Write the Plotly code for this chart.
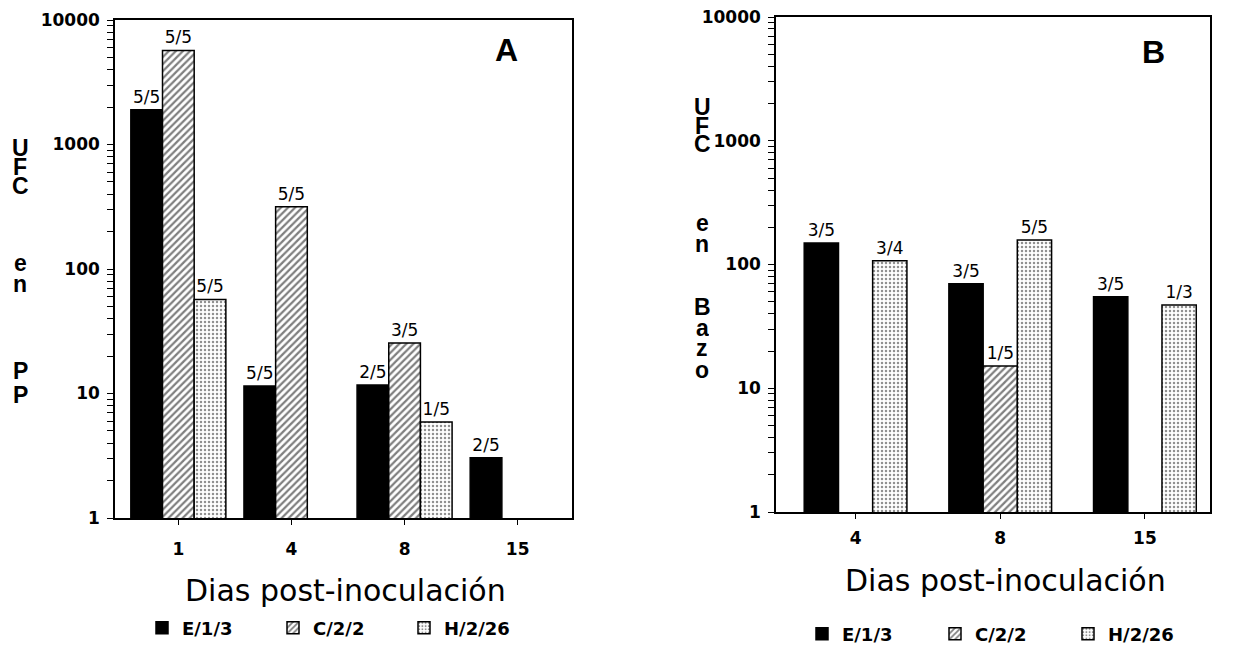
import plotly.graph_objects as go

# ---------------- data ----------------
days_A = ["1", "4", "8", "15"]
E_A = [1900, 11.5, 11.7, 3.05]
C_A = [5700, 316, 25.5, None]
H_A = [57, None, 5.9, None]
E_A_lab = ["5/5", "5/5", "2/5", "2/5"]
C_A_lab = ["5/5", "5/5", "3/5", ""]
H_A_lab = ["5/5", "", "1/5", ""]

days_B = ["4", "8", "15"]
E_B = [149, 70, 55]
C_B = [None, 15.1, None]
H_B = [107, 158, 47]
E_B_lab = ["3/5", "3/5", "3/5"]
C_B_lab = ["", "1/5", ""]
H_B_lab = ["3/4", "5/5", "1/3"]

series_names = ["E/1/3", "C/2/2", "H/2/26"]

y_tickvals = [m * 10 ** k for k in range(4) for m in range(1, 10)] + [10000]
y_ticktext = [str(v) if v in (1, 10, 100, 1000, 10000) else "" for v in y_tickvals]

W, H = 1234, 662
BAR_FONT = dict(family="DejaVu Sans", size=17, color="black")
LINE = dict(color="black", width=1.5)

def styles():
    return [
        dict(color="black", line=LINE),
        dict(color="white", line=LINE,
             pattern=dict(shape="/", fgcolor="black", bgcolor="white", size=5, solidity=0.45)),
        dict(color="white", line=LINE,
             pattern=dict(shape=".", fgcolor="#222", bgcolor="white", size=4, solidity=0.3)),
    ]

fig = go.Figure()

# Panel A
wA = 0.28
offA = [-0.42, -0.14, 0.14]
for i, (vals, labs) in enumerate(zip([E_A, C_A, H_A], [E_A_lab, C_A_lab, H_A_lab])):
    fig.add_trace(go.Bar(
        x=days_A, y=vals, text=labs, name=series_names[i],
        marker=styles()[i], width=wA, offset=offA[i],
        textposition="outside", textfont=BAR_FONT, constraintext="none",
        cliponaxis=False, xaxis="x", yaxis="y", legend="legend",
    ))

# Panel B
wB = 0.237
offB = [-0.355, -0.118, 0.118]
for i, (vals, labs) in enumerate(zip([E_B, C_B, H_B], [E_B_lab, C_B_lab, H_B_lab])):
    fig.add_trace(go.Bar(
        x=days_B, y=vals, text=labs, name=series_names[i],
        marker=styles()[i], width=wB, offset=offB[i],
        textposition="outside", textfont=BAR_FONT, constraintext="none",
        cliponaxis=False, xaxis="x2", yaxis="y2", legend="legend2",
    ))

tickfont = dict(family="DejaVu Sans", size=17, color="black", weight="bold")

def xax(domain, anchor, rng, standoff):
    return dict(domain=domain, anchor=anchor, type="category", range=rng,
                showline=True, mirror=True, linecolor="black", linewidth=1.5,
                ticks="outside", ticklen=5, tickwidth=1.2, tickcolor="black",
                tickfont=tickfont, ticklabelstandoff=standoff, showgrid=False, zeroline=False)

def yax(domain, anchor):
    return dict(domain=domain, anchor=anchor, type="log", range=[0, 4],
                tickmode="array", tickvals=y_tickvals, ticktext=y_ticktext,
                showline=True, mirror=True, linecolor="black", linewidth=1.5,
                ticks="outside", ticklen=6, tickwidth=1.2, tickcolor="black",
                tickfont=tickfont, ticklabelstandoff=4, showgrid=False, zeroline=False)

legend_font = dict(family="DejaVu Sans", size=18, color="black", weight="bold")
fig.update_layout(
    width=W, height=H, margin=dict(l=0, r=0, t=0, b=0, autoexpand=False),
    paper_bgcolor="white", plot_bgcolor="white",
    barmode="overlay",
    xaxis=xax([115 / W, 572 / W], "y", [-0.56, 3.48], 10),
    yaxis=yax([1 - 518 / H, 1 - 20 / H], "x"),
    xaxis2=xax([776 / W, 1210 / W], "y2", [-0.55, 2.45], 5),
    yaxis2=yax([1 - 512 / H, 1 - 17 / H], "x2"),
    legend=dict(orientation="h", x=142 / W, y=1 - 628 / H, xanchor="left", yanchor="middle",
                font=legend_font, entrywidth=86, entrywidthmode="pixels", bgcolor="rgba(0,0,0,0)"),
    legend2=dict(orientation="h", x=802 / W, y=1 - 634 / H, xanchor="left", yanchor="middle",
                 font=legend_font, entrywidth=88, entrywidthmode="pixels", bgcolor="rgba(0,0,0,0)"),
    showlegend=True,
)

ann = []
title_font = dict(family="DejaVu Sans", size=30, color="black")
ann.append(dict(text="Dias post-inoculación", x=345 / W, y=1 - 590 / H, xref="paper", yref="paper",
                showarrow=False, font=title_font, xanchor="center", yanchor="middle"))
ann.append(dict(text="Dias post-inoculación", x=1005 / W, y=1 - 580 / H, xref="paper", yref="paper",
                showarrow=False, font=title_font, xanchor="center", yanchor="middle"))
panel_font = dict(family="Liberation Sans", size=32, color="black", weight="bold")
ann.append(dict(text="A", x=506 / W, y=1 - 50 / H, xref="paper", yref="paper", showarrow=False,
                font=panel_font, xanchor="center", yanchor="middle"))
ann.append(dict(text="B", x=1153 / W, y=1 - 52 / H, xref="paper", yref="paper", showarrow=False,
                font=panel_font, xanchor="center", yanchor="middle"))

letter_font = dict(family="Liberation Sans", size=23, color="black", weight="bold")
for ch, yy in zip(["U", "F", "C", "e", "n", "P", "P"], [148, 167, 186, 263, 284, 371, 395]):
    ann.append(dict(text=ch, x=20 / W, y=1 - yy / H, xref="paper", yref="paper", showarrow=False,
                    font=letter_font, xanchor="center", yanchor="middle", height=18))
for ch, yy in zip(["U", "F", "C", "e", "n", "B", "a", "z", "o"], [106, 125, 144, 222, 243, 306, 327, 348, 369]):
    ann.append(dict(text=ch, x=702 / W, y=1 - yy / H, xref="paper", yref="paper", showarrow=False,
                    font=letter_font, xanchor="center", yanchor="middle", height=19))
fig.update_layout(annotations=ann)

fig.write_html("out.html")
